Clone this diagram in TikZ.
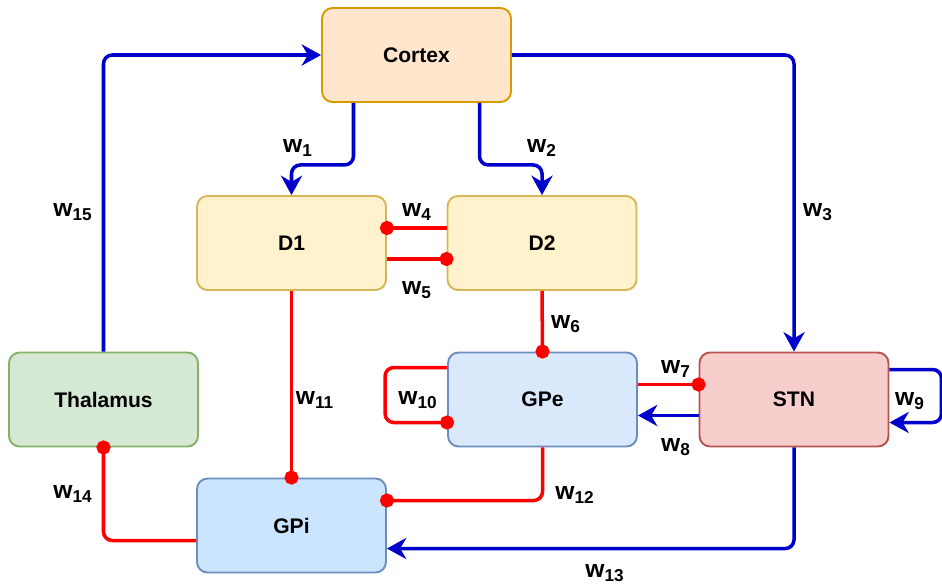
\documentclass[tikz,border=0pt]{standalone}
\usepackage{fontspec}
\setmainfont{Liberation Sans}
\usetikzlibrary{arrows.meta,calc}

\definecolor{excblue}{HTML}{0000CC}
\definecolor{inhred}{HTML}{FF0000}
\newcommand{\wgt}[1]{w\textsubscript{#1}}

\begin{document}
\begin{tikzpicture}[x=0.02cm,y=-0.02cm,
  area/.style={draw,rounded corners=6pt,line width=1.1pt,minimum width=3.78cm,minimum height=1.88cm,font=\fontsize{12}{14}\selectfont\bfseries},
  exc/.style={draw=excblue,line width=2pt,rounded corners=5pt,-{Stealth[length=11pt,width=12pt,inset=3.5pt]}},
  inh/.style={draw=inhred,line width=2pt,rounded corners=5pt,-{Circle[length=8pt]},shorten >=-4pt},
  wlab/.style={font=\fontsize{14}{16}\selectfont\bfseries}]
\useasboundingbox (0,0) rectangle (942,585);

\node[area,fill={rgb,255:red,255;green,230;blue,204},draw={rgb,255:red,215;green,155;blue,0}] (cortex) at (416.5,55) {Cortex};
\node[area,fill={rgb,255:red,255;green,242;blue,204},draw={rgb,255:red,214;green,182;blue,86}] (d1) at (291.5,243) {D1};
\node[area,fill={rgb,255:red,255;green,242;blue,204},draw={rgb,255:red,214;green,182;blue,86}] (d2) at (542,243) {D2};
\node[area,fill={rgb,255:red,213;green,232;blue,212},draw={rgb,255:red,130;green,179;blue,102}] (thal) at (103.5,399.5) {Thalamus};
\node[area,fill={rgb,255:red,218;green,232;blue,252},draw={rgb,255:red,108;green,142;blue,191}] (gpe) at (542.5,399.5) {GPe};
\node[area,fill={rgb,255:red,248;green,206;blue,204},draw={rgb,255:red,184;green,84;blue,80}] (stn) at (794,399.5) {STN};
\node[area,fill={rgb,255:red,204;green,229;blue,255},draw={rgb,255:red,108;green,142;blue,191}] (gpi) at (291.5,525.5) {GPi};

% excitatory
\draw[exc] ($(cortex.south)+(-63,0)$) -- ++(0,62) -| (d1.north);
\draw[exc] ($(cortex.south)+(63,0)$) -- ++(0,62) -| (d2.north);
\draw[exc] (cortex.east) -| (stn.north);
\draw[exc] ($(stn.west)+(0,16)$) -- ($(gpe.east)+(0,16)$);
\draw[exc] ($(stn.east)+(0,-30)$) -- ++(52,0) |- ($(stn.east)+(0,23)$);
\draw[exc] (stn.south) |- ($(gpi.east)+(0,23)$);
\draw[exc] (thal.north) |- (cortex.west);

% inhibitory
\draw[inh] ($(d2.west)+(0,-15)$) -- ($(d1.east)+(0,-15)$);
\draw[inh] ($(d1.east)+(0,16)$) -- ($(d2.west)+(0,16)$);
\draw[inh] (d2.south) -- (gpe.north);
\draw[inh] ($(gpe.east)+(0,-15)$) -- ($(stn.west)+(0,-15)$);
\draw[inh] ($(gpe.west)+(0,-32)$) -- ++(-62,0) |- ($(gpe.west)+(0,23)$);
\draw[inh] (d1.south) -- (gpi.north);
\draw[inh] (gpe.south) |- ($(gpi.east)+(0,-25)$);
\draw[inh] ($(gpi.west)+(0,15)$) -| (thal.south);

\node[wlab] (l1) at (298,148) {\wgt{1}};
\node[wlab] (l2) at (542,148) {\wgt{2}};
\node[wlab] (l3) at (818,212) {\wgt{3}};
\node[wlab] (l4) at (417,212) {\wgt{4}};
\node[wlab] (l5) at (417,290) {\wgt{5}};
\node[wlab] (l6) at (566,324) {\wgt{6}};
\node[wlab] (l7) at (676,369) {\wgt{7}};
\node[wlab] (l8) at (676,447) {\wgt{8}};
\node[wlab] (l9) at (910,401) {\wgt{9}};
\node[wlab] (l10) at (418,400) {\wgt{10}};
\node[wlab] (l11) at (315,400) {\wgt{11}};
\node[wlab] (l12) at (575,495) {\wgt{12}};
\node[wlab] (l13) at (605,573) {\wgt{13}};
\node[wlab] (l14) at (73,494) {\wgt{14}};
\node[wlab] (l15) at (73,212) {\wgt{15}};
\end{tikzpicture}
\end{document}
